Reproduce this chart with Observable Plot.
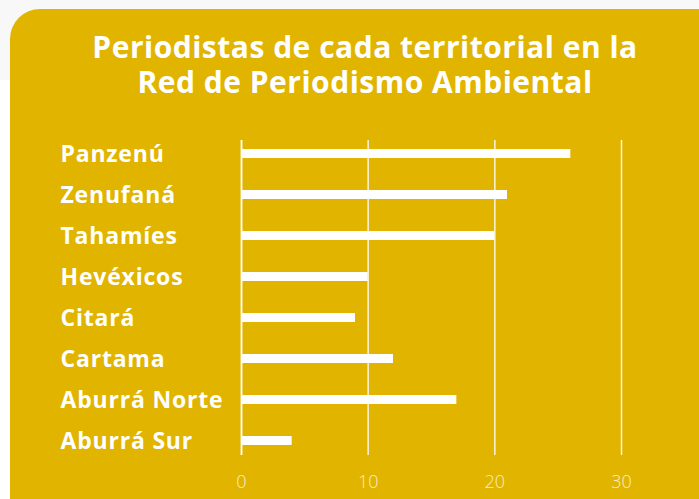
<!DOCTYPE html>
<html>
<head>
<meta charset="utf-8">
<script src="https://cdn.jsdelivr.net/npm/d3@7"></script>
<script src="https://cdn.jsdelivr.net/npm/@observablehq/plot@0.6"></script>
<style>
  html, body { margin: 0; padding: 0; width: 699px; height: 499px; overflow: hidden; background: #ffffff; }
  #topband { position: absolute; left: 0; top: 0; width: 699px; height: 80px; background: #f8f8f8; }
  #card { position: absolute; left: 10px; top: 9px; width: 740px; height: 540px; background: #E1B400; border-radius: 30px; }
  #title { position: absolute; left: 0; top: 29px; width: 730px; margin: 0; }
  #title div { display: block; height: 35px; line-height: 35px; overflow: visible; text-align: center; color: #ffffff;
           font-family: "Open Sans", sans-serif; font-weight: 700; font-size: 30px; letter-spacing: 0.5px; white-space: nowrap; }
  #chart { position: absolute; left: 0; top: 110px; }
</style>
</head>
<body>
<div id="topband"></div>
<div id="card"></div>
<div id="title"><div>Periodistas de cada territorial en la</div><div>Red de Periodismo Ambiental</div></div>
<div id="chart"></div>
<script>
const territoriales = ["Panzenú", "Zenufaná", "Tahamíes", "Hevéxicos", "Citará", "Cartama", "Aburrá Norte", "Aburrá Sur"];
const periodistas = [26, 21, 20, 10, 9, 12, 17, 4];
const xTicks = [0, 10, 20, 30];

const data = territoriales.map((t, i) => ({territorial: t, valor: periodistas[i]}));

const plot = Plot.plot({
  width: 699,
  height: 389,
  marginLeft: 241,
  marginRight: 78,
  marginTop: 20,
  marginBottom: 35,
  style: {background: "transparent", overflow: "visible"},
  x: {domain: [0, 30], ticks: xTicks, axis: null, label: null},
  y: {domain: territoriales, padding: 0, axis: null, label: null},
  marks: [
    Plot.ruleX(xTicks, {x: d => d, stroke: "#ffffff", strokeOpacity: 0.85, strokeWidth: 1.5, insetTop: 10, insetBottom: 9}),
    Plot.barX(data, {y: "territorial", x: "valor", fill: "#ffffff", insetTop: 16, insetBottom: 16}),
    Plot.ruleX([0], {stroke: "#ffffff", strokeWidth: 1.5, insetTop: 10, insetBottom: 9}),
    Plot.text(data, {y: "territorial", text: "territorial", frameAnchor: "left", dx: -181, textAnchor: "start",
      fill: "#ffffff", fontSize: 23, fontWeight: 700, fontFamily: "Open Sans", dy: 1}),
    Plot.axisX(xTicks, {tickSize: 0, tickPadding: 11, fontSize: 18, fontWeight: 300, fontFamily: "Open Sans",
      fill: "#f8edc4", color: "#f8edc4", label: null, tickFormat: d => String(d)})
  ]
});
plot.querySelectorAll("text").forEach(t => {
  if (territoriales.includes(t.textContent)) t.setAttribute("letter-spacing", "0.8");
});
document.getElementById("chart").appendChild(plot);
</script>
</body>
</html>
